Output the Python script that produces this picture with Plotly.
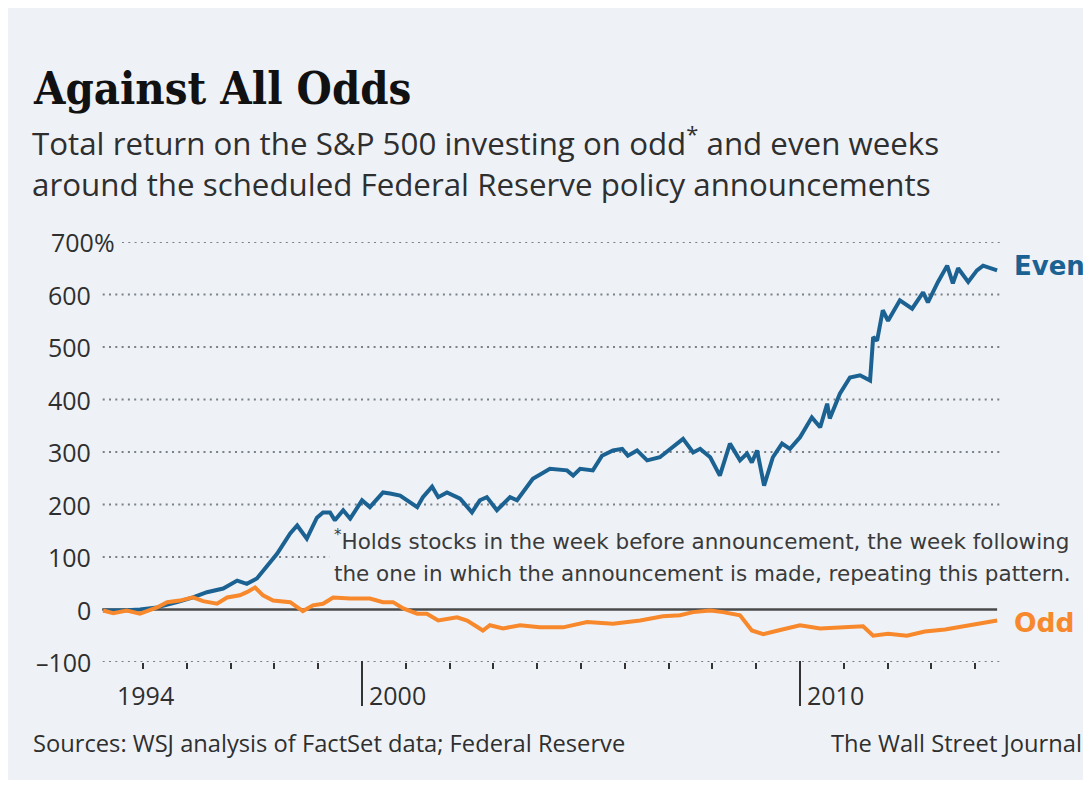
import plotly.graph_objects as go

# ---------------- data (decimal years, total return %) ----------------
even_years = [1994.09, 1994.54, 1994.93, 1995.32, 1995.78, 1996.14, 1996.46, 1996.83, 1997.15, 1997.37,
              1997.60, 1997.74, 1998.06, 1998.36, 1998.52, 1998.74, 1998.97, 1999.11, 1999.27, 1999.38,
              1999.57, 1999.73, 2000.00, 2000.18, 2000.48, 2000.64, 2000.87, 2001.26, 2001.39, 2001.60,
              2001.74, 2001.94, 2002.24, 2002.51, 2002.69, 2002.85, 2003.08, 2003.38, 2003.54, 2003.90,
              2004.29, 2004.68, 2004.82, 2004.98, 2005.27, 2005.48, 2005.73, 2005.94, 2006.07, 2006.28,
              2006.51, 2006.80, 2007.10, 2007.33, 2007.56, 2007.72, 2007.95, 2008.17, 2008.40, 2008.63,
              2008.79, 2008.90, 2009.02, 2009.18, 2009.38, 2009.59, 2009.77, 2010.00, 2010.27, 2010.46,
              2010.62, 2010.68, 2010.91, 2011.14, 2011.37, 2011.60, 2011.67, 2011.76, 2011.89, 2012.01,
              2012.28, 2012.56, 2012.81, 2012.92, 2013.15, 2013.36, 2013.49, 2013.61, 2013.84, 2014.04,
              2014.18, 2014.50]
even_values = [-2, -2, 0, 4, 14, 23, 33, 40, 55, 49,
               59, 74, 106, 145, 160, 135, 175, 185, 185, 170,
               189, 173, 208, 195, 223, 221, 217, 195, 214, 234,
               214, 223, 211, 185, 208, 214, 189, 214, 208, 249,
               268, 265, 255, 268, 265, 293, 303, 306, 293, 303,
               284, 290, 309, 325, 299, 306, 290, 255, 316, 284,
               297, 280, 303, 236, 290, 316, 306, 328, 366, 347,
               392, 364, 411, 442, 446, 436, 519, 512, 570, 550,
               589, 573, 604, 585, 624, 655, 621, 650, 624, 646,
               655, 646]

odd_years = [1994.09, 1994.32, 1994.63, 1994.93, 1995.32, 1995.55, 1995.84, 1996.14, 1996.37, 1996.69,
             1996.92, 1997.21, 1997.37, 1997.56, 1997.74, 1997.97, 1998.36, 1998.65, 1998.88, 1999.11,
             1999.34, 1999.73, 2000.18, 2000.48, 2000.71, 2000.94, 2001.26, 2001.48, 2001.74, 2002.17,
             2002.40, 2002.63, 2002.76, 2002.92, 2003.22, 2003.61, 2004.06, 2004.59, 2005.14, 2005.73,
             2006.35, 2006.87, 2007.26, 2007.56, 2007.95, 2008.24, 2008.63, 2008.90, 2009.16, 2009.50,
             2009.77, 2010.00, 2010.46, 2010.91, 2011.44, 2011.67, 2012.01, 2012.44, 2012.85, 2013.31,
             2013.77, 2014.11, 2014.50]
odd_values = [-2, -7, -2, -8, 4, 14, 17, 23, 16, 11,
              23, 27, 33, 42, 27, 17, 14, -3, 8, 11,
              23, 21, 21, 14, 14, 2, -8, -8, -21, -15,
              -21, -34, -40, -30, -36, -30, -34, -34, -24, -27,
              -21, -13, -11, -5, -2, -5, -11, -40, -47, -40,
              -34, -30, -36, -34, -32, -50, -46, -50, -42, -38,
              -32, -27, -21]

y_ticks = [-100, 0, 100, 200, 300, 400, 500, 600, 700]
y_tick_text = ["\u2013100", "0", "100", "200", "300", "400", "500", "600", "700%"]
x_minor_ticks = [1995, 1996, 1997, 1998, 1999, 2001, 2002, 2003, 2004, 2005, 2006, 2007, 2008, 2009,
                 2011, 2012, 2013, 2014]
x_major_ticks = [2000, 2010]
x_labels = ["1994", "2000", "2010"]
x_label_pos = [1994.36, 2000, 2010]
footnote_lines = ["<sup>*</sup>Holds stocks in the week before announcement, the week following",
                  "the one in which the announcement is made, repeating this pattern."]

# ---------------- styling ----------------
OFF = 8                     # browser body margin
W, H = 1083, 779
L, R, T, B = 92, 91, 234, 125
PW, PH = W - L - R, H - T - B
X_RANGE = [1994.018, 2014.566]
BG = "#eef2f7"
BLUE = "#1b6292"
ORANGE = "#f7882c"
TXT = "#2f2f2f"
SANS = "'Open Sans', Roboto, sans-serif"
DEJA = "'DejaVu Sans', sans-serif"


def xp(px):
    return (px - OFF - L) / PW


def yp(py):
    return (H - B - (py - OFF)) / PH


fig = go.Figure()
fig.add_trace(go.Scatter(x=even_years, y=even_values, mode="lines",
                         line=dict(color=BLUE, width=4), hoverinfo="skip"))
fig.add_trace(go.Scatter(x=odd_years, y=odd_values, mode="lines",
                         line=dict(color=ORANGE, width=4), hoverinfo="skip"))

shapes = [dict(type="rect", xref="paper", yref="paper", x0=xp(8), x1=xp(1100), y0=yp(780), y1=yp(0),
               fillcolor=BG, line=dict(width=0), layer="below")]
for v in y_ticks:
    if v == 0:
        continue
    shapes.append(dict(type="line", xref="x domain", yref="y",
                       x0=(22 / PW if v == 700 else 0.003), x1=1.0, y0=v, y1=v,
                       line=dict(color="#7a8087", width=2, dash="2px,4.3px"), layer="below"))
shapes.append(dict(type="line", xref="x", yref="y", x0=X_RANGE[0] + 0.05, x1=even_years[-1], y0=0, y1=0,
                   line=dict(color="#4a4a4a", width=2.6), layer="below"))
for t in x_major_ticks:
    shapes.append(dict(type="line", xref="x", yref="paper", x0=t, x1=t, y0=yp(661), y1=yp(706),
                       line=dict(color="#333333", width=2)))

annotations = []
for v, s in zip(y_ticks, y_tick_text):
    annotations.append(dict(x=0, xref="paper", y=v, yref="y", text=s, showarrow=False,
                            xanchor="right", yanchor="middle",
                            xshift=(17 if s.endswith("%") else -7),
                            font=dict(family=SANS, size=25, color=TXT)))
for pos, s in zip(x_label_pos, x_labels):
    annotations.append(dict(x=pos, xref="x", y=yp(695), yref="paper", text=s, showarrow=False,
                            xanchor="left", yanchor="middle", xshift=(0 if s == "1994" else 5),
                            font=dict(family=SANS, size=25, color=TXT)))
annotations.append(dict(x=xp(31), xref="paper", y=yp(88), yref="paper", text="<b>Against All Odds</b>",
                        showarrow=False, xanchor="left", yanchor="middle",
                        font=dict(family="'DejaVu Serif Condensed', 'DejaVu Serif', serif", size=45,
                                  color="#111111")))
annotations.append(dict(x=xp(30), xref="paper", y=yp(162), yref="paper",
                        text="Total return on the S&P 500 investing on odd<sup>*</sup> and even weeks<br>"
                             "around the scheduled Federal Reserve policy announcements",
                        showarrow=False, xanchor="left", yanchor="middle", align="left",
                        font=dict(family=SANS, size=31.3, color=TXT)))
for i, (line, ypos) in enumerate(zip(footnote_lines, [540, 573])):
    annotations.append(dict(x=xp(329), xref="paper", y=yp(ypos), yref="paper", text=line,
                            showarrow=False, xanchor="left", yanchor="middle", align="left",
                            bgcolor=BG, borderpad=4,
                            font=dict(family=DEJA, size=21.5, color="#3a3a3a")))
annotations.append(dict(x=xp(1012), xref="paper", y=yp(266), yref="paper", text="<b>Even</b>",
                        showarrow=False, xanchor="left", yanchor="middle",
                        font=dict(family=DEJA, size=26, color=BLUE)))
annotations.append(dict(x=xp(1012), xref="paper", y=yp(622), yref="paper", text="<b>Odd</b>",
                        showarrow=False, xanchor="left", yanchor="middle",
                        font=dict(family=DEJA, size=26.5, color=ORANGE)))
annotations.append(dict(x=xp(31), xref="paper", y=yp(743), yref="paper",
                        text="Sources: WSJ analysis of FactSet data; Federal Reserve",
                        showarrow=False, xanchor="left", yanchor="middle",
                        font=dict(family=SANS, size=23.7, color=TXT)))
annotations.append(dict(x=xp(1084), xref="paper", y=yp(743), yref="paper",
                        text="The Wall Street Journal",
                        showarrow=False, xanchor="right", yanchor="middle",
                        font=dict(family=SANS, size=23.7, color=TXT)))

fig.update_layout(
    width=W, height=H,
    margin=dict(l=L, r=R, t=T, b=B),
    paper_bgcolor="white", plot_bgcolor="rgba(0,0,0,0)",
    showlegend=False,
    shapes=shapes, annotations=annotations,
    xaxis=dict(range=X_RANGE, showgrid=False, zeroline=False, showline=False,
               tickmode="array", tickvals=x_major_ticks, showticklabels=False,
               ticks="outside", ticklen=0, tickcolor="#333333", tickwidth=2,
               minor=dict(tickmode="array", tickvals=x_minor_ticks, ticks="outside",
                          ticklen=6, tickcolor="#333333", tickwidth=2, showgrid=False)),
    yaxis=dict(range=[-100, 700], showgrid=False, zeroline=False, showline=False,
               tickmode="array", tickvals=y_ticks, showticklabels=False, ticks=""),
)

fig.write_html("out.html")
